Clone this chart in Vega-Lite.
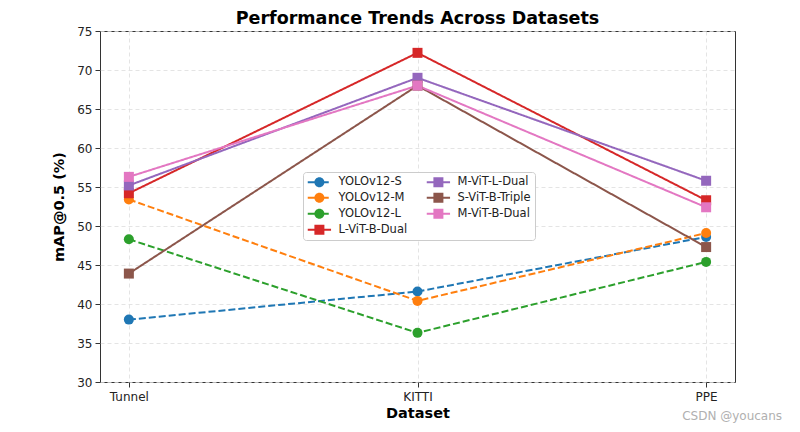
{
  "$schema": "https://vega.github.io/schema/vega-lite/v6.json",
  "width": 635,
  "height": 351,
  "autosize": {"type": "none"},
  "padding": {"left": 100, "top": 31, "right": 65, "bottom": 50},
  "background": "white",
  "title": {"text": "Performance Trends Across Datasets", "fontSize": 17.5, "fontWeight": "bold", "font": "DejaVu Sans", "color": "#000", "offset": -2},
  "config": {
    "font": "DejaVu Sans",
    "view": {"stroke": "#333", "strokeWidth": 1},
    "axis": {"labelFont": "DejaVu Sans", "labelFontSize": 12, "labelColor": "#222", "titleFont": "DejaVu Sans", "titleFontSize": 14.5, "titleFontWeight": "bold", "titleColor": "#000", "grid": true, "gridColor": "#dddddd", "gridDash": [4, 3], "gridWidth": 0.8, "domain": false, "tickColor": "#333", "tickSize": 5, "labelOverlap": false}
  },
  "data": {"values": [
    {"dataset": "Tunnel", "model": "YOLOv12-S", "map": 38.0},
    {"dataset": "KITTI", "model": "YOLOv12-S", "map": 41.6},
    {"dataset": "PPE", "model": "YOLOv12-S", "map": 48.6},
    {"dataset": "Tunnel", "model": "YOLOv12-M", "map": 53.4},
    {"dataset": "KITTI", "model": "YOLOv12-M", "map": 40.4},
    {"dataset": "PPE", "model": "YOLOv12-M", "map": 49.1},
    {"dataset": "Tunnel", "model": "YOLOv12-L", "map": 48.3},
    {"dataset": "KITTI", "model": "YOLOv12-L", "map": 36.3},
    {"dataset": "PPE", "model": "YOLOv12-L", "map": 45.4},
    {"dataset": "Tunnel", "model": "L-ViT-B-Dual", "map": 54.2},
    {"dataset": "KITTI", "model": "L-ViT-B-Dual", "map": 72.2},
    {"dataset": "PPE", "model": "L-ViT-B-Dual", "map": 53.3},
    {"dataset": "Tunnel", "model": "M-ViT-L-Dual", "map": 55.2},
    {"dataset": "KITTI", "model": "M-ViT-L-Dual", "map": 69.0},
    {"dataset": "PPE", "model": "M-ViT-L-Dual", "map": 55.8},
    {"dataset": "Tunnel", "model": "S-ViT-B-Triple", "map": 43.9},
    {"dataset": "KITTI", "model": "S-ViT-B-Triple", "map": 68.0},
    {"dataset": "PPE", "model": "S-ViT-B-Triple", "map": 47.3},
    {"dataset": "Tunnel", "model": "M-ViT-B-Dual", "map": 56.3},
    {"dataset": "KITTI", "model": "M-ViT-B-Dual", "map": 68.0},
    {"dataset": "PPE", "model": "M-ViT-B-Dual", "map": 52.4}
  ]},
  "encoding": {
    "x": {"field": "dataset", "type": "ordinal", "sort": ["Tunnel", "KITTI", "PPE"], "scale": {"type": "point", "padding": 0.1}, "axis": {"title": "Dataset", "labelAngle": 0, "titlePadding": 4, "labelPadding": 4}},
    "y": {"field": "map", "type": "quantitative", "scale": {"domain": [30, 75], "nice": false, "zero": false}, "axis": {"title": "mAP@0.5 (%)", "values": [30, 35, 40, 45, 50, 55, 60, 65, 70, 75], "titlePadding": 10, "labelPadding": 3, "labelOverlap": false}},
    "color": {"field": "model", "type": "nominal",
      "scale": {"domain": ["YOLOv12-S", "YOLOv12-M", "YOLOv12-L", "L-ViT-B-Dual", "M-ViT-L-Dual", "S-ViT-B-Triple", "M-ViT-B-Dual"],
                "range": ["#1f77b4", "#ff7f0e", "#2ca02c", "#d62728", "#9467bd", "#8c564b", "#e377c2"]},
      "legend": null}
  },
  "layer": [
    {
      "transform": [{"filter": "false"}],
      "mark": {"type": "point", "filled": true, "opacity": 1, "size": 100},
      "encoding": {
        "color": {"field": "model", "type": "nominal",
          "scale": {"domain": ["YOLOv12-S", "YOLOv12-M", "YOLOv12-L", "L-ViT-B-Dual", "M-ViT-L-Dual", "S-ViT-B-Triple", "M-ViT-B-Dual"],
                    "range": ["#1f77b4", "#ff7f0e", "#2ca02c", "#d62728", "#9467bd", "#8c564b", "#e377c2"]},
          "legend": {"title": null, "orient": "none", "legendX": 203, "legendY": 141, "columns": 2, "columnPadding": 18, "rowPadding": 3, "labelFontSize": 11.5, "labelFont": "DejaVu Sans", "labelColor": "#222", "labelOffset": 20, "symbolSize": 100, "symbolOpacity": 1, "symbolStrokeWidth": 0, "fillColor": "white", "strokeColor": "#cccccc", "cornerRadius": 3, "padding": 4}},
        "shape": {"field": "model", "type": "nominal",
          "scale": {"domain": ["YOLOv12-S", "YOLOv12-M", "YOLOv12-L", "L-ViT-B-Dual", "M-ViT-L-Dual", "S-ViT-B-Triple", "M-ViT-B-Dual"],
                    "range": [
                      "M-1,-0.2H0.35V0.2H-1Z M2.3,-0.2H3.2V0.2H2.3Z M2.33,0A1,1 0 1,1 0.33,0A1,1 0 1,1 2.33,0Z",
                      "M-1,-0.2H0.35V0.2H-1Z M2.3,-0.2H3.2V0.2H2.3Z M2.33,0A1,1 0 1,1 0.33,0A1,1 0 1,1 2.33,0Z",
                      "M-1,-0.2H0.35V0.2H-1Z M2.3,-0.2H3.2V0.2H2.3Z M2.33,0A1,1 0 1,1 0.33,0A1,1 0 1,1 2.33,0Z",
                      "M-1,-0.2H0.33V0.2H-1Z M2.33,-0.2H3.66V0.2H2.33Z M0.33,-1H2.33V1H0.33Z",
                      "M-1,-0.2H0.33V0.2H-1Z M2.33,-0.2H3.66V0.2H2.33Z M0.33,-1H2.33V1H0.33Z",
                      "M-1,-0.2H0.33V0.2H-1Z M2.33,-0.2H3.66V0.2H2.33Z M0.33,-1H2.33V1H0.33Z",
                      "M-1,-0.2H0.33V0.2H-1Z M2.33,-0.2H3.66V0.2H2.33Z M0.33,-1H2.33V1H0.33Z"
                    ]},
          "legend": {"title": null}}
      }
    },
    {
      "mark": {"type": "line", "strokeWidth": 2},
      "encoding": {
        "strokeDash": {"field": "model", "type": "nominal", "legend": null,
          "scale": {"domain": ["YOLOv12-S", "YOLOv12-M", "YOLOv12-L", "L-ViT-B-Dual", "M-ViT-L-Dual", "S-ViT-B-Triple", "M-ViT-B-Dual"],
                    "range": [[7, 3], [7, 3], [7, 3], [1, 0], [1, 0], [1, 0], [1, 0]]}}
      }
    },
    {
      "transform": [{"filter": {"field": "model", "oneOf": ["YOLOv12-S", "YOLOv12-M", "YOLOv12-L"]}}],
      "mark": {"type": "point", "shape": "circle", "filled": true, "size": 100, "opacity": 1}
    },
    {
      "transform": [{"filter": {"field": "model", "oneOf": ["L-ViT-B-Dual", "M-ViT-L-Dual", "S-ViT-B-Triple", "M-ViT-B-Dual"]}}],
      "mark": {"type": "point", "shape": "square", "filled": true, "size": 100, "opacity": 1}
    },
    {
      "data": {"values": [{"label": "CSDN @youcans", "dataset": "PPE", "map": 30}]},
      "mark": {"type": "text", "fontSize": 12, "color": "#b0b0b0", "dy": 34, "dx": 26, "font": "DejaVu Sans"},
      "encoding": {"text": {"field": "label"}, "color": {"value": "#b0b0b0"}}
    }
  ]
}
